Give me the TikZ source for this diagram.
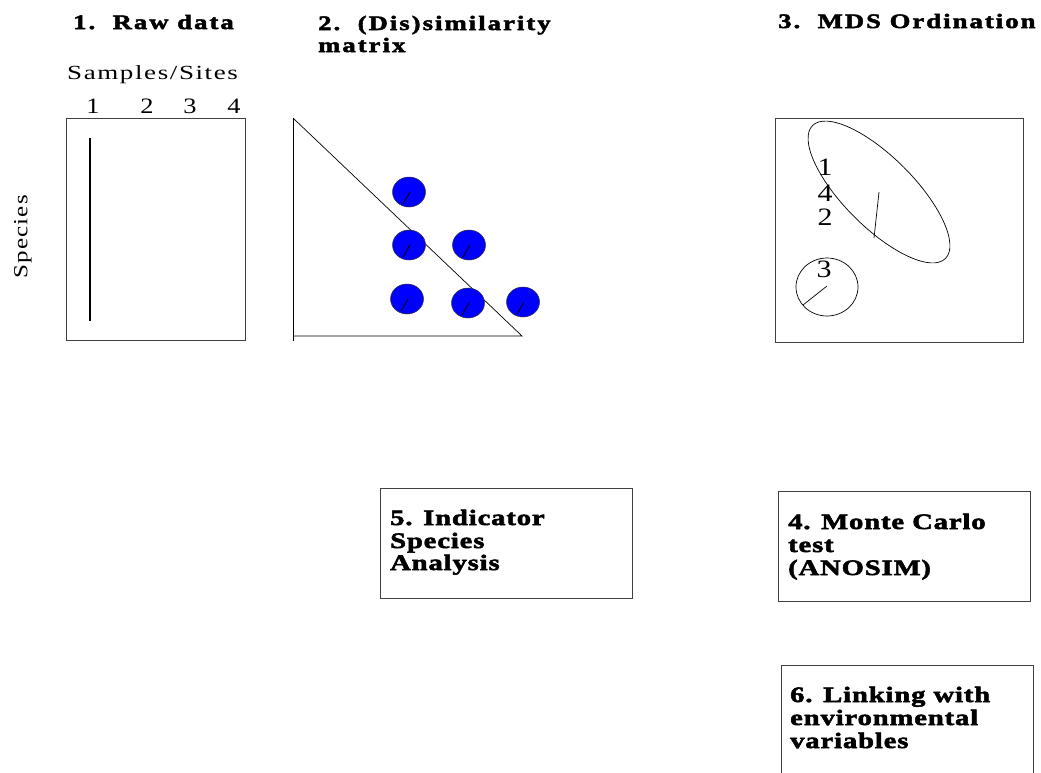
\documentclass[tikz,border=0pt]{standalone}
\usepackage{fontspec}
\usetikzlibrary{shapes.geometric}
\setmainfont{Liberation Serif}
\newfontfamily\ttlfont[FakeStretch=1.3, LetterSpace=10, BoldFeatures={FakeBold=2.5}]{Liberation Serif}
\newfontfamily\boxfont[FakeStretch=1.3, LetterSpace=4, BoldFeatures={FakeBold=2.5}]{Liberation Serif}
\newfontfamily\lblfont[FakeStretch=1.35, LetterSpace=8]{Liberation Serif}
\newfontfamily\spcfont[FakeStretch=1.25, LetterSpace=6]{Liberation Serif}
\newfontfamily\numfont[FakeStretch=1.2]{Liberation Serif}
\begin{document}
\begin{tikzpicture}[x=1pt,y=-1pt,
  ttl/.style={font=\ttlfont\bfseries\fontsize{20.5}{23}\selectfont, anchor=base west, inner sep=0pt},
  boxtxt/.style={font=\boxfont\bfseries\fontsize{22}{23}\selectfont, anchor=base west, inner sep=0pt},
  lbl/.style={font=\lblfont\fontsize{20}{23}\selectfont, anchor=base west, inner sep=0pt},
  num/.style={font=\numfont\fontsize{22}{23}\selectfont, anchor=base, inner sep=0pt},
  big/.style={font=\numfont\fontsize{25}{26}\selectfont, anchor=base, inner sep=0pt},
  frame/.style={draw=black!75, line width=0.8pt},
  thin/.style={draw=black, line width=0.7pt},
  dot/.style={ellipse, draw=black!80, line width=0.5pt, fill=blue, minimum width=33pt, minimum height=30pt, inner sep=0pt}
]
\useasboundingbox (0,0) rectangle (1041,772);

% titles
\node[ttl] (t1) at (73,29) {1.\ \ Raw data};
\node[ttl] (t2a) at (318,30) {2.\ \ (Dis)similarity};
\node[ttl] (t2b) at (318,52) {matrix};
\node[ttl] (t3) at (778,28) {3.\ \ MDS Ordination};

% panel 1
\node[lbl] (ss) at (67,79) {Samples/Sites};
\node[num] (n1) at (93,113) {1};
\node[num] (n2) at (147,113) {2};
\node[num] (n3) at (190,113) {3};
\node[num] (n4) at (234,113) {4};
\node[font=\spcfont\fontsize{20}{23}\selectfont, rotate=90, inner sep=0pt] (sp) at (23,237) {Species};
\draw[frame] (66,118) rectangle (245,340);
\coordinate (v1) at (90,138);
\coordinate (v2) at (90,321);
\draw[line width=1.5pt] (v1) -- (v2);

% panel 2: triangle and dots
\coordinate (ta) at (293,118);
\coordinate (tb) at (293,341);
\coordinate (tc) at (293,336);
\coordinate (td) at (522,336);
\draw[thin] (ta) -- (tb);
\draw[thin] (tc) -- (td) -- (ta);
\foreach \n/\px/\py in {a/409/192, b/409/245, c/469/245, d/407/299, e/468/303, f/523/302}{
  \node[dot] (d\n) at (\px,\py) {};
  \draw[line width=0.9pt] ([xshift=1pt]d\n.center) -- ++(-7,12);
}

% panel 3: MDS
\draw[frame] (775,118) rectangle (1023,342);
\draw[thin] (879,192) ellipse [x radius=94, y radius=35, rotate=-45];
\coordinate (e1) at (879,192);
\coordinate (e2) at (874,238);
\draw[thin] (e1) -- (e2);
\draw[thin] (827,287) ellipse [x radius=31, y radius=29];
\coordinate (c1) at (827,286);
\coordinate (c2) at (803,305);
\draw[thin] (c1) -- (c2);
\node[big] (m1) at (825,175) {1};
\node[big] (m4) at (825,201) {4};
\node[big] (m2) at (825,225) {2};
\node[big] (m3) at (824,277) {3};

% box 5
\draw[frame] (380,488) rectangle (632,598);
\node[boxtxt] (b5a) at (390,525) {5. Indicator};
\node[boxtxt] (b5b) at (390,548) {Species};
\node[boxtxt] (b5c) at (390,570) {Analysis};

% box 4
\draw[frame] (778,491) rectangle (1030,601);
\node[boxtxt] (b4a) at (788,529) {4. Monte Carlo};
\node[boxtxt] (b4b) at (788,552) {test};
\node[boxtxt] (b4c) at (788,575) {(ANOSIM)};

% box 6
\draw[frame] (781,780) -- (781,665) -- (1033,665) -- (1033,780);
\node[boxtxt] (b6a) at (790,702) {6. Linking with};
\node[boxtxt] (b6b) at (790,725) {environmental};
\node[boxtxt] (b6c) at (790,748) {variables};
\end{tikzpicture}
\end{document}
